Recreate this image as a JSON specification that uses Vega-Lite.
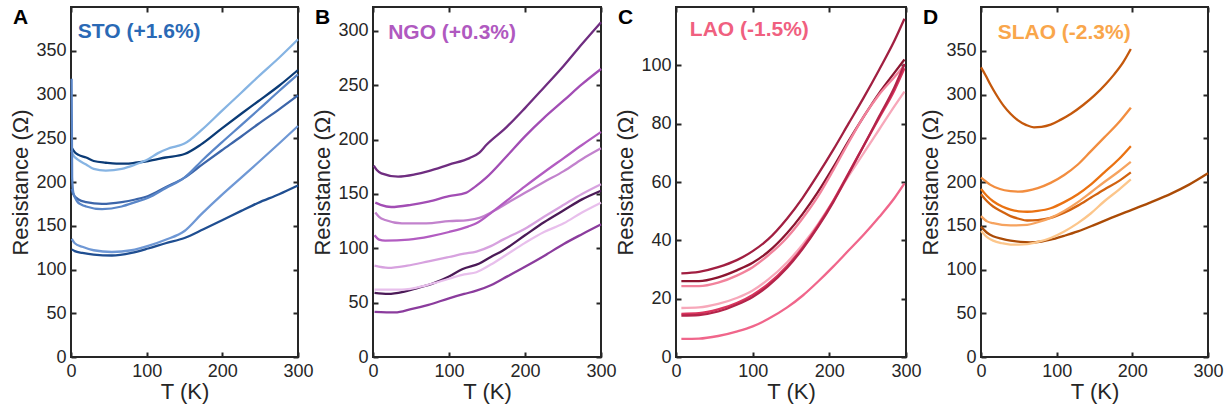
{
 "$schema": "https://vega.github.io/schema/vega-lite/v6.json",
 "padding": {"left": 8, "top": 5, "right": 5, "bottom": 5},
 "background": "white",
 "spacing": 75,
 "bounds": "flush",
 "datasets": {
  "A": [
   {"s":"A1","T":1,"R":239},{"s":"A1","T":5,"R":234},{"s":"A1","T":10,"R":231},{"s":"A1","T":20,"R":228},{"s":"A1","T":30,"R":224},{"s":"A1","T":46,"R":222},{"s":"A1","T":60,"R":221},{"s":"A1","T":72,"R":221},{"s":"A1","T":85,"R":222},{"s":"A1","T":102,"R":224},{"s":"A1","T":125,"R":228},{"s":"A1","T":150,"R":232},{"s":"A1","T":172,"R":243},{"s":"A1","T":199,"R":261},{"s":"A1","T":225,"R":278},{"s":"A1","T":247,"R":292},{"s":"A1","T":275,"R":310},{"s":"A1","T":300,"R":328},
   {"s":"A2","T":1,"R":236},{"s":"A2","T":2,"R":232},{"s":"A2","T":10,"R":225},{"s":"A2","T":20,"R":220},{"s":"A2","T":30,"R":215},{"s":"A2","T":46,"R":213},{"s":"A2","T":67,"R":215},{"s":"A2","T":85,"R":220},{"s":"A2","T":102,"R":226},{"s":"A2","T":115,"R":233},{"s":"A2","T":128,"R":238},{"s":"A2","T":140,"R":241},{"s":"A2","T":150,"R":244},{"s":"A2","T":172,"R":259},{"s":"A2","T":199,"R":281},{"s":"A2","T":225,"R":302},{"s":"A2","T":247,"R":320},{"s":"A2","T":275,"R":342},{"s":"A2","T":300,"R":363},
   {"s":"A3","T":1,"R":192},{"s":"A3","T":3,"R":186},{"s":"A3","T":10,"R":180},{"s":"A3","T":20,"R":177},{"s":"A3","T":41,"R":175},{"s":"A3","T":67,"R":177},{"s":"A3","T":85,"R":180},{"s":"A3","T":102,"R":184},{"s":"A3","T":125,"R":194},{"s":"A3","T":150,"R":205},{"s":"A3","T":175,"R":221},{"s":"A3","T":199,"R":236},{"s":"A3","T":225,"R":252},{"s":"A3","T":247,"R":266},{"s":"A3","T":275,"R":283},{"s":"A3","T":300,"R":299},
   {"s":"A4","T":0.8,"R":318},{"s":"A4","T":1.5,"R":205},{"s":"A4","T":3,"R":188},{"s":"A4","T":8,"R":178},{"s":"A4","T":14,"R":174},{"s":"A4","T":20,"R":172},{"s":"A4","T":41,"R":169},{"s":"A4","T":67,"R":172},{"s":"A4","T":85,"R":177},{"s":"A4","T":102,"R":182},{"s":"A4","T":125,"R":193},{"s":"A4","T":150,"R":205},{"s":"A4","T":175,"R":226},{"s":"A4","T":199,"R":245},{"s":"A4","T":225,"R":265},{"s":"A4","T":247,"R":282},{"s":"A4","T":275,"R":304},{"s":"A4","T":300,"R":323},
   {"s":"A5","T":1,"R":135},{"s":"A5","T":5,"R":130},{"s":"A5","T":15,"R":126},{"s":"A5","T":30,"R":122},{"s":"A5","T":54,"R":120},{"s":"A5","T":80,"R":122},{"s":"A5","T":102,"R":127},{"s":"A5","T":125,"R":134},{"s":"A5","T":150,"R":144},{"s":"A5","T":172,"R":163},{"s":"A5","T":199,"R":185},{"s":"A5","T":225,"R":205},{"s":"A5","T":247,"R":222},{"s":"A5","T":275,"R":244},{"s":"A5","T":300,"R":264},
   {"s":"A6","T":1,"R":123},{"s":"A6","T":5,"R":121},{"s":"A6","T":15,"R":119},{"s":"A6","T":30,"R":117},{"s":"A6","T":54,"R":116},{"s":"A6","T":80,"R":119},{"s":"A6","T":102,"R":124},{"s":"A6","T":125,"R":130},{"s":"A6","T":150,"R":136},{"s":"A6","T":175,"R":146},{"s":"A6","T":199,"R":156},{"s":"A6","T":225,"R":167},{"s":"A6","T":247,"R":176},{"s":"A6","T":275,"R":186},{"s":"A6","T":300,"R":196}
  ],
  "B": [
   {"s":"B1","T":1,"R":176},{"s":"B1","T":5,"R":172},{"s":"B1","T":11,"R":169},{"s":"B1","T":33,"R":166},{"s":"B1","T":55,"R":168},{"s":"B1","T":73,"R":171},{"s":"B1","T":100,"R":177},{"s":"B1","T":127,"R":183},{"s":"B1","T":140,"R":188},{"s":"B1","T":149,"R":195},{"s":"B1","T":175,"R":211},{"s":"B1","T":200,"R":229},{"s":"B1","T":225,"R":248},{"s":"B1","T":251,"R":268},{"s":"B1","T":275,"R":288},{"s":"B1","T":300,"R":308},
   {"s":"B2","T":3,"R":142},{"s":"B2","T":10,"R":140},{"s":"B2","T":24,"R":138},{"s":"B2","T":50,"R":140},{"s":"B2","T":73,"R":143},{"s":"B2","T":100,"R":148},{"s":"B2","T":122,"R":151},{"s":"B2","T":135,"R":157},{"s":"B2","T":149,"R":165},{"s":"B2","T":175,"R":184},{"s":"B2","T":200,"R":203},{"s":"B2","T":225,"R":220},{"s":"B2","T":251,"R":236},{"s":"B2","T":275,"R":251},{"s":"B2","T":300,"R":265},
   {"s":"B3","T":3,"R":133},{"s":"B3","T":8,"R":129},{"s":"B3","T":16,"R":126},{"s":"B3","T":38,"R":123},{"s":"B3","T":70,"R":123},{"s":"B3","T":100,"R":125},{"s":"B3","T":125,"R":126},{"s":"B3","T":140,"R":128},{"s":"B3","T":158,"R":134},{"s":"B3","T":180,"R":143},{"s":"B3","T":200,"R":151},{"s":"B3","T":225,"R":161},{"s":"B3","T":251,"R":171},{"s":"B3","T":275,"R":182},{"s":"B3","T":300,"R":192},
   {"s":"B4","T":2,"R":112},{"s":"B4","T":8,"R":108},{"s":"B4","T":16,"R":107},{"s":"B4","T":47,"R":108},{"s":"B4","T":75,"R":111},{"s":"B4","T":100,"R":115},{"s":"B4","T":125,"R":120},{"s":"B4","T":136,"R":123},{"s":"B4","T":158,"R":134},{"s":"B4","T":180,"R":146},{"s":"B4","T":200,"R":157},{"s":"B4","T":225,"R":170},{"s":"B4","T":251,"R":183},{"s":"B4","T":275,"R":195},{"s":"B4","T":300,"R":207},
   {"s":"B5","T":2,"R":84},{"s":"B5","T":20,"R":82},{"s":"B5","T":45,"R":84},{"s":"B5","T":73,"R":88},{"s":"B5","T":100,"R":92},{"s":"B5","T":120,"R":95},{"s":"B5","T":136,"R":97},{"s":"B5","T":155,"R":102},{"s":"B5","T":171,"R":108},{"s":"B5","T":200,"R":118},{"s":"B5","T":225,"R":129},{"s":"B5","T":251,"R":140},{"s":"B5","T":275,"R":150},{"s":"B5","T":300,"R":159},
   {"s":"B6","T":2,"R":59},{"s":"B6","T":20,"R":58},{"s":"B6","T":40,"R":60},{"s":"B6","T":56,"R":63},{"s":"B6","T":80,"R":68},{"s":"B6","T":100,"R":74},{"s":"B6","T":118,"R":81},{"s":"B6","T":140,"R":86},{"s":"B6","T":155,"R":92},{"s":"B6","T":171,"R":98},{"s":"B6","T":200,"R":112},{"s":"B6","T":225,"R":124},{"s":"B6","T":251,"R":135},{"s":"B6","T":275,"R":145},{"s":"B6","T":300,"R":153},
   {"s":"B7","T":2,"R":62},{"s":"B7","T":20,"R":62},{"s":"B7","T":38,"R":62},{"s":"B7","T":70,"R":66},{"s":"B7","T":100,"R":72},{"s":"B7","T":120,"R":76},{"s":"B7","T":136,"R":78},{"s":"B7","T":155,"R":85},{"s":"B7","T":171,"R":92},{"s":"B7","T":200,"R":105},{"s":"B7","T":225,"R":115},{"s":"B7","T":251,"R":123},{"s":"B7","T":275,"R":133},{"s":"B7","T":300,"R":142},
   {"s":"B8","T":2,"R":41.5},{"s":"B8","T":29,"R":41},{"s":"B8","T":50,"R":44},{"s":"B8","T":73,"R":48},{"s":"B8","T":100,"R":54},{"s":"B8","T":120,"R":58},{"s":"B8","T":136,"R":61},{"s":"B8","T":155,"R":66},{"s":"B8","T":171,"R":72},{"s":"B8","T":200,"R":83},{"s":"B8","T":225,"R":93},{"s":"B8","T":251,"R":104},{"s":"B8","T":275,"R":113},{"s":"B8","T":300,"R":122}
  ],
  "C": [
   {"s":"C1","T":7,"R":28.7},{"s":"C1","T":30,"R":29.2},{"s":"C1","T":55,"R":30.8},{"s":"C1","T":80,"R":33.3},{"s":"C1","T":100,"R":36.3},{"s":"C1","T":120,"R":40.3},{"s":"C1","T":145,"R":47.5},{"s":"C1","T":165,"R":54.5},{"s":"C1","T":185,"R":62.5},{"s":"C1","T":205,"R":71},{"s":"C1","T":225,"R":80},{"s":"C1","T":245,"R":89},{"s":"C1","T":265,"R":98.5},{"s":"C1","T":285,"R":108.5},{"s":"C1","T":298,"R":116},
   {"s":"C2","T":7,"R":26},{"s":"C2","T":30,"R":26},{"s":"C2","T":55,"R":27.3},{"s":"C2","T":80,"R":29.8},{"s":"C2","T":100,"R":32.3},{"s":"C2","T":120,"R":36},{"s":"C2","T":145,"R":42.5},{"s":"C2","T":165,"R":49},{"s":"C2","T":185,"R":56.5},{"s":"C2","T":205,"R":65},{"s":"C2","T":225,"R":74},{"s":"C2","T":245,"R":82.5},{"s":"C2","T":265,"R":90.5},{"s":"C2","T":285,"R":97.5},{"s":"C2","T":298,"R":102},
   {"s":"C3","T":7,"R":24.3},{"s":"C3","T":30,"R":24.3},{"s":"C3","T":55,"R":25.5},{"s":"C3","T":80,"R":28},{"s":"C3","T":100,"R":30.8},{"s":"C3","T":120,"R":34.8},{"s":"C3","T":145,"R":41},{"s":"C3","T":165,"R":47.5},{"s":"C3","T":185,"R":55},{"s":"C3","T":205,"R":64},{"s":"C3","T":225,"R":73.5},{"s":"C3","T":245,"R":82.5},{"s":"C3","T":265,"R":90},{"s":"C3","T":285,"R":96},{"s":"C3","T":298,"R":100},
   {"s":"C4","T":7,"R":16.8},{"s":"C4","T":30,"R":17},{"s":"C4","T":55,"R":18.2},{"s":"C4","T":80,"R":20.3},{"s":"C4","T":100,"R":22.8},{"s":"C4","T":120,"R":26.5},{"s":"C4","T":145,"R":32.5},{"s":"C4","T":165,"R":38.5},{"s":"C4","T":185,"R":45.5},{"s":"C4","T":205,"R":53.5},{"s":"C4","T":225,"R":62},{"s":"C4","T":245,"R":70},{"s":"C4","T":265,"R":78},{"s":"C4","T":285,"R":86},{"s":"C4","T":298,"R":91},
   {"s":"C5","T":7,"R":14.8},{"s":"C5","T":30,"R":15},{"s":"C5","T":55,"R":16.3},{"s":"C5","T":80,"R":18.6},{"s":"C5","T":100,"R":21.3},{"s":"C5","T":120,"R":25},{"s":"C5","T":145,"R":31.2},{"s":"C5","T":165,"R":37.5},{"s":"C5","T":185,"R":45},{"s":"C5","T":205,"R":53.5},{"s":"C5","T":225,"R":63},{"s":"C5","T":245,"R":72.5},{"s":"C5","T":265,"R":82},{"s":"C5","T":285,"R":91.5},{"s":"C5","T":298,"R":99},
   {"s":"C6","T":7,"R":14.2},{"s":"C6","T":30,"R":14.4},{"s":"C6","T":55,"R":15.6},{"s":"C6","T":80,"R":18},{"s":"C6","T":100,"R":20.6},{"s":"C6","T":120,"R":24.3},{"s":"C6","T":145,"R":30.6},{"s":"C6","T":165,"R":37},{"s":"C6","T":185,"R":44.5},{"s":"C6","T":205,"R":53},{"s":"C6","T":225,"R":62.7},{"s":"C6","T":245,"R":72.5},{"s":"C6","T":265,"R":82.5},{"s":"C6","T":285,"R":92.5},{"s":"C6","T":298,"R":100.5},
   {"s":"C7","T":7,"R":6.2},{"s":"C7","T":30,"R":6.3},{"s":"C7","T":55,"R":7.2},{"s":"C7","T":80,"R":8.8},{"s":"C7","T":100,"R":10.5},{"s":"C7","T":120,"R":13},{"s":"C7","T":145,"R":17},{"s":"C7","T":165,"R":21},{"s":"C7","T":185,"R":25.8},{"s":"C7","T":205,"R":31},{"s":"C7","T":225,"R":36.5},{"s":"C7","T":245,"R":42},{"s":"C7","T":265,"R":48},{"s":"C7","T":285,"R":54.5},{"s":"C7","T":298,"R":59.5}
  ],
  "D": [
   {"s":"D1","T":0,"R":331},{"s":"D1","T":6,"R":322},{"s":"D1","T":12,"R":312},{"s":"D1","T":20,"R":300},{"s":"D1","T":30,"R":287},{"s":"D1","T":39,"R":278},{"s":"D1","T":48,"R":271},{"s":"D1","T":60,"R":265},{"s":"D1","T":70,"R":262.5},{"s":"D1","T":80,"R":263},{"s":"D1","T":92,"R":265.5},{"s":"D1","T":105,"R":271},{"s":"D1","T":119,"R":278},{"s":"D1","T":135,"R":288},{"s":"D1","T":150,"R":299},{"s":"D1","T":165,"R":312},{"s":"D1","T":176,"R":323},{"s":"D1","T":188,"R":337},{"s":"D1","T":198,"R":352},
   {"s":"D2","T":0,"R":205},{"s":"D2","T":6,"R":201},{"s":"D2","T":12,"R":197},{"s":"D2","T":25,"R":192},{"s":"D2","T":39,"R":189.6},{"s":"D2","T":50,"R":189},{"s":"D2","T":61,"R":190},{"s":"D2","T":75,"R":193},{"s":"D2","T":92,"R":199},{"s":"D2","T":110,"R":208},{"s":"D2","T":128,"R":220},{"s":"D2","T":145,"R":235},{"s":"D2","T":163,"R":251},{"s":"D2","T":182,"R":268},{"s":"D2","T":198,"R":285},
   {"s":"D3","T":0,"R":192},{"s":"D3","T":8,"R":184},{"s":"D3","T":16,"R":178},{"s":"D3","T":28,"R":172},{"s":"D3","T":39,"R":168.5},{"s":"D3","T":50,"R":166.5},{"s":"D3","T":61,"R":166},{"s":"D3","T":75,"R":167},{"s":"D3","T":92,"R":170},{"s":"D3","T":110,"R":177},{"s":"D3","T":128,"R":186},{"s":"D3","T":145,"R":197},{"s":"D3","T":163,"R":211},{"s":"D3","T":182,"R":226},{"s":"D3","T":198,"R":241},
   {"s":"D4","T":0,"R":186},{"s":"D4","T":8,"R":178},{"s":"D4","T":16,"R":172},{"s":"D4","T":28,"R":166},{"s":"D4","T":39,"R":161},{"s":"D4","T":50,"R":158},{"s":"D4","T":61,"R":156},{"s":"D4","T":75,"R":156.5},{"s":"D4","T":92,"R":159},{"s":"D4","T":110,"R":165},{"s":"D4","T":128,"R":173},{"s":"D4","T":145,"R":182},{"s":"D4","T":163,"R":191.5},{"s":"D4","T":182,"R":201},{"s":"D4","T":198,"R":211},
   {"s":"D5","T":0,"R":161},{"s":"D5","T":8,"R":155},{"s":"D5","T":16,"R":153},{"s":"D5","T":39,"R":150.4},{"s":"D5","T":61,"R":151},{"s":"D5","T":75,"R":154},{"s":"D5","T":92,"R":159},{"s":"D5","T":110,"R":167},{"s":"D5","T":128,"R":177},{"s":"D5","T":145,"R":188},{"s":"D5","T":163,"R":200},{"s":"D5","T":182,"R":212},{"s":"D5","T":198,"R":223},
   {"s":"D6","T":0,"R":149},{"s":"D6","T":8,"R":142},{"s":"D6","T":16,"R":138},{"s":"D6","T":28,"R":135},{"s":"D6","T":39,"R":133},{"s":"D6","T":52,"R":131.5},{"s":"D6","T":65,"R":131},{"s":"D6","T":80,"R":132},{"s":"D6","T":92,"R":134},{"s":"D6","T":110,"R":138.5},{"s":"D6","T":128,"R":143.5},{"s":"D6","T":150,"R":151},{"s":"D6","T":172,"R":159},{"s":"D6","T":200,"R":168.5},{"s":"D6","T":225,"R":177},{"s":"D6","T":252,"R":187},{"s":"D6","T":275,"R":197},{"s":"D6","T":300,"R":210},
   {"s":"D7","T":0,"R":144},{"s":"D7","T":8,"R":137},{"s":"D7","T":16,"R":133},{"s":"D7","T":28,"R":130},{"s":"D7","T":39,"R":128.5},{"s":"D7","T":50,"R":128.5},{"s":"D7","T":61,"R":129},{"s":"D7","T":75,"R":131.5},{"s":"D7","T":92,"R":136},{"s":"D7","T":110,"R":143.5},{"s":"D7","T":128,"R":153},{"s":"D7","T":145,"R":164},{"s":"D7","T":163,"R":178},{"s":"D7","T":182,"R":191},{"s":"D7","T":198,"R":203}
  ]
 },
 "hconcat": [
  {
   "width": 227, "height": 350,
   "title": {"text": "A"},
   "data": {"name": "A"},
   "layer": [
    {"mark": {"type": "line", "interpolate": "monotone", "strokeWidth": 2.3},
     "encoding": {
      "x": {"field": "T", "type": "quantitative", "scale": {"domain": [0, 300], "nice": false}, "axis": {"values": [0, 100, 200, 300], "title": "T (K)"}},
      "y": {"field": "R", "type": "quantitative", "scale": {"domain": [0, 400], "nice": false}, "axis": {"values": [0, 50, 100, 150, 200, 250, 300, 350], "title": "Resistance (Ω)"}},
      "color": {"field": "s", "type": "nominal", "scale": {"domain": ["A1","A2","A3","A4","A5","A6"], "range": ["#0b3b76","#86b4e3","#3c65a9","#5a86c8","#6f98d5","#1f4e91"]}, "legend": null}
     }},
    {"mark": {"type": "point", "opacity": 0, "size": 1},
     "encoding": {
      "x": {"field": "T", "type": "quantitative", "scale": {"domain": [0, 300], "nice": false}, "axis": {"orient": "top", "values": [0, 100, 200, 300], "labels": false, "title": null}},
      "y": {"field": "R", "type": "quantitative", "scale": {"domain": [0, 400], "nice": false}, "axis": {"orient": "right", "values": [0, 50, 100, 150, 200, 250, 300, 350], "labels": false, "title": null}}
     }},
    {"data": {"values": [{}]},
     "mark": {"type": "text", "text": "STO (+1.6%)", "color": "#2a69b5", "fontSize": 21, "fontWeight": "bold", "align": "left", "baseline": "alphabetic"},
     "encoding": {
      "x": {"datum": 9, "type": "quantitative", "scale": {"domain": [0, 300], "nice": false}, "axis": null},
      "y": {"datum": 365, "type": "quantitative", "scale": {"domain": [0, 400], "nice": false}, "axis": null}
     }}
   ],
   "resolve": {"axis": {"x": "independent", "y": "independent"}}
  },
  {
   "width": 228, "height": 350,
   "title": {"text": "B"},
   "data": {"name": "B"},
   "layer": [
    {"mark": {"type": "line", "interpolate": "monotone", "strokeWidth": 2.3},
     "encoding": {
      "x": {"field": "T", "type": "quantitative", "scale": {"domain": [0, 300], "nice": false}, "axis": {"values": [0, 100, 200, 300], "title": "T (K)"}},
      "y": {"field": "R", "type": "quantitative", "scale": {"domain": [0, 322], "nice": false}, "axis": {"values": [0, 50, 100, 150, 200, 250, 300], "title": "Resistance (Ω)"}},
      "color": {"field": "s", "type": "nominal", "scale": {"domain": ["B1","B2","B3","B4","B5","B6","B7","B8"], "range": ["#6f2d80","#a24db4","#c282cd","#b25cc1","#d7a2df","#4b1a57","#e8bfec","#8b3c9d"]}, "legend": null}
     }},
    {"mark": {"type": "point", "opacity": 0, "size": 1},
     "encoding": {
      "x": {"field": "T", "type": "quantitative", "scale": {"domain": [0, 300], "nice": false}, "axis": {"orient": "top", "values": [0, 100, 200, 300], "labels": false, "title": null}},
      "y": {"field": "R", "type": "quantitative", "scale": {"domain": [0, 322], "nice": false}, "axis": {"orient": "right", "values": [0, 50, 100, 150, 200, 250, 300], "labels": false, "title": null}}
     }},
    {"data": {"values": [{}]},
     "mark": {"type": "text", "text": "NGO (+0.3%)", "color": "#b059c0", "fontSize": 21, "fontWeight": "bold", "align": "left", "baseline": "alphabetic"},
     "encoding": {
      "x": {"datum": 20, "type": "quantitative", "scale": {"domain": [0, 300], "nice": false}, "axis": null},
      "y": {"datum": 293, "type": "quantitative", "scale": {"domain": [0, 322], "nice": false}, "axis": null}
     }}
   ],
   "resolve": {"axis": {"x": "independent", "y": "independent"}}
  },
  {
   "width": 230, "height": 350,
   "title": {"text": "C"},
   "data": {"name": "C"},
   "layer": [
    {"mark": {"type": "line", "interpolate": "monotone", "strokeWidth": 2.3},
     "encoding": {
      "x": {"field": "T", "type": "quantitative", "scale": {"domain": [0, 300], "nice": false}, "axis": {"values": [0, 100, 200, 300], "title": "T (K)"}},
      "y": {"field": "R", "type": "quantitative", "scale": {"domain": [0, 120], "nice": false}, "axis": {"values": [0, 20, 40, 60, 80, 100], "title": "Resistance (Ω)"}},
      "color": {"field": "s", "type": "nominal", "scale": {"domain": ["C1","C2","C3","C4","C5","C6","C7"], "range": ["#a11f41","#8c1530","#f2839c","#f7a8ba","#d9345d","#b3244a","#f0668b"]}, "legend": null}
     }},
    {"mark": {"type": "point", "opacity": 0, "size": 1},
     "encoding": {
      "x": {"field": "T", "type": "quantitative", "scale": {"domain": [0, 300], "nice": false}, "axis": {"orient": "top", "values": [0, 100, 200, 300], "labels": false, "title": null}},
      "y": {"field": "R", "type": "quantitative", "scale": {"domain": [0, 120], "nice": false}, "axis": {"orient": "right", "values": [0, 20, 40, 60, 80, 100], "labels": false, "title": null}}
     }},
    {"data": {"values": [{}]},
     "mark": {"type": "text", "text": "LAO (-1.5%)", "color": "#f0607f", "fontSize": 21, "fontWeight": "bold", "align": "left", "baseline": "alphabetic"},
     "encoding": {
      "x": {"datum": 18, "type": "quantitative", "scale": {"domain": [0, 300], "nice": false}, "axis": null},
      "y": {"datum": 110, "type": "quantitative", "scale": {"domain": [0, 120], "nice": false}, "axis": null}
     }}
   ],
   "resolve": {"axis": {"x": "independent", "y": "independent"}}
  },
  {
   "width": 227, "height": 350,
   "title": {"text": "D"},
   "data": {"name": "D"},
   "layer": [
    {"mark": {"type": "line", "interpolate": "monotone", "strokeWidth": 2.3},
     "encoding": {
      "x": {"field": "T", "type": "quantitative", "scale": {"domain": [0, 300], "nice": false}, "axis": {"values": [0, 100, 200, 300], "title": "T (K)"}},
      "y": {"field": "R", "type": "quantitative", "scale": {"domain": [0, 400], "nice": false}, "axis": {"values": [0, 50, 100, 150, 200, 250, 300, 350], "title": "Resistance (Ω)"}},
      "color": {"field": "s", "type": "nominal", "scale": {"domain": ["D1","D2","D3","D4","D5","D6","D7"], "range": ["#c4580c","#f28d3f","#ea7212","#d2620f","#f6a35f","#ab4b06","#fcc68b"]}, "legend": null}
     }},
    {"mark": {"type": "point", "opacity": 0, "size": 1},
     "encoding": {
      "x": {"field": "T", "type": "quantitative", "scale": {"domain": [0, 300], "nice": false}, "axis": {"orient": "top", "values": [0, 100, 200, 300], "labels": false, "title": null}},
      "y": {"field": "R", "type": "quantitative", "scale": {"domain": [0, 400], "nice": false}, "axis": {"orient": "right", "values": [0, 50, 100, 150, 200, 250, 300, 350], "labels": false, "title": null}}
     }},
    {"data": {"values": [{}]},
     "mark": {"type": "text", "text": "SLAO (-2.3%)", "color": "#f9a64b", "fontSize": 21, "fontWeight": "bold", "align": "left", "baseline": "alphabetic"},
     "encoding": {
      "x": {"datum": 22, "type": "quantitative", "scale": {"domain": [0, 300], "nice": false}, "axis": null},
      "y": {"datum": 364, "type": "quantitative", "scale": {"domain": [0, 400], "nice": false}, "axis": null}
     }}
   ],
   "resolve": {"axis": {"x": "independent", "y": "independent"}}
  }
 ],
 "resolve": {"scale": {"x": "independent", "y": "independent", "color": "independent"}},
 "config": {
  "font": "Liberation Sans",
  "view": {"stroke": "#262626", "strokeWidth": 2},
  "axis": {"domain": false, "grid": false, "ticks": true, "tickSize": -5, "tickWidth": 2, "tickColor": "#262626", "labelFont": "Liberation Sans", "labelFontSize": 18, "labelColor": "#262626", "labelPadding": 10, "labelFlush": false, "titleFont": "Liberation Sans", "titleFontSize": 22, "titleFontWeight": "normal", "titleColor": "#262626"},
  "axisX": {"titlePadding": 1},
  "axisY": {"titlePadding": 3},
  "title": {"anchor": "start", "frame": "group", "fontSize": 21, "fontWeight": "bold", "color": "#000000", "baseline": "top", "offset": -22, "dx": -58, "font": "Liberation Sans"}
 }
}
